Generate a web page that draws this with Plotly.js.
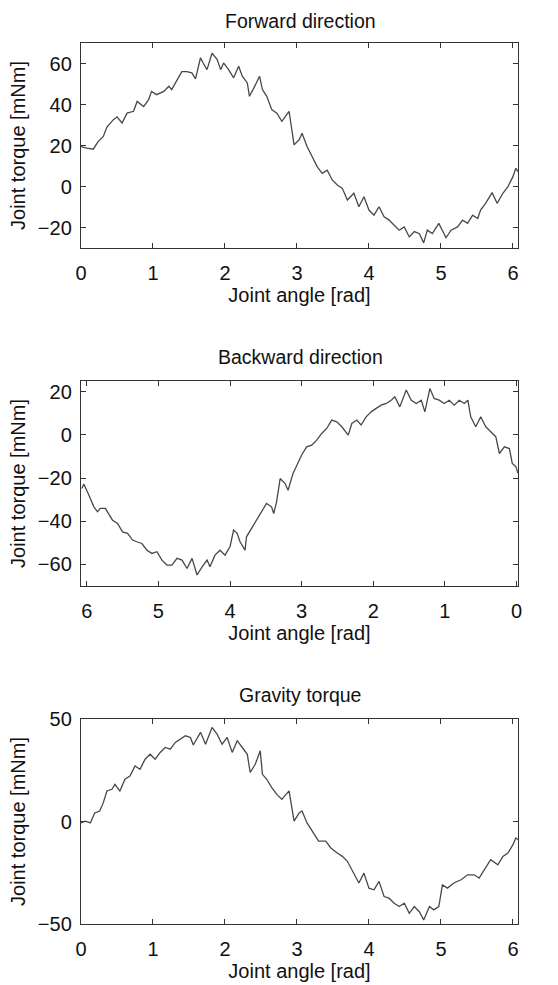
<!DOCTYPE html>
<html>
<head>
<meta charset="utf-8">
<script src="https://cdn.plot.ly/plotly-3.0.1.min.js"></script>
<style>html,body{margin:0;padding:0;background:#fff}#chart{width:558px;height:985px}</style>
</head>
<body>
<div id="chart"></div>
<script>
// Forward direction
const fwdAngle = [0,0.08,0.17,0.24,0.31,0.36,0.45,0.5,0.57,0.64,0.73,0.78,0.87,0.94,0.98,1.05,1.15,1.22,1.26,1.33,1.40,1.47,1.54,1.59,1.66,1.70,1.75,1.82,1.89,1.94,1.98,2.05,2.12,2.19,2.24,2.31,2.34,2.40,2.45,2.48,2.52,2.58,2.65,2.72,2.79,2.84,2.89,2.96,3.03,3.07,3.14,3.21,3.28,3.35,3.42,3.49,3.56,3.63,3.70,3.79,3.86,3.93,4.00,4.07,4.14,4.21,4.28,4.35,4.42,4.49,4.56,4.63,4.70,4.76,4.81,4.88,4.97,5.07,5.14,5.23,5.30,5.37,5.44,5.51,5.55,5.62,5.71,5.78,5.86,5.93,6.00,6.04,6.07];
const fwdTorque = [19.5,18.7,18.2,22,24.4,29,32.6,34,31,35.8,36.7,41.5,39,42.4,46.4,44.8,46.4,48.9,47.3,52,56,56,55.4,52.5,62.8,60,57,65,62,57,60.3,57,53,58.7,53.8,50.5,44,48,52,53.8,47.3,44,37.5,35.8,31.8,34,36.7,20.3,22.8,26,19.5,14.6,9.7,6.4,8,3.2,0.7,-0.9,-6.6,-3.3,-9.9,-5,-11.5,-14,-9.9,-14.8,-16.4,-18.9,-21.3,-19.7,-24.6,-22,-23,-27.5,-21.3,-23,-18,-25,-21.3,-19.7,-16.4,-18,-14,-15.6,-11.5,-8.2,-3,-8.2,-3.3,-0.1,4.8,8.9,7.3];

// Backward direction
const bwdAngle = [6.07,6.04,5.98,5.94,5.90,5.85,5.81,5.74,5.69,5.64,5.57,5.50,5.43,5.36,5.30,5.23,5.16,5.09,5.02,4.95,4.88,4.81,4.74,4.67,4.60,4.53,4.46,4.39,4.32,4.28,4.21,4.14,4.07,4.00,3.95,3.90,3.86,3.79,3.77,3.70,3.63,3.56,3.49,3.42,3.39,3.35,3.30,3.23,3.19,3.12,3.05,3.00,2.93,2.86,2.79,2.72,2.65,2.58,2.51,2.44,2.35,2.30,2.23,2.17,2.10,2.03,1.96,1.89,1.82,1.75,1.70,1.63,1.54,1.47,1.40,1.33,1.28,1.21,1.15,1.08,1.01,0.94,0.87,0.80,0.73,0.68,0.64,0.57,0.50,0.43,0.36,0.29,0.24,0.17,0.10,0.06,0.01,-0.02];
const bwdTorque = [-24.8,-22.8,-27.1,-30.2,-33.3,-35.6,-34,-34,-37.1,-39.5,-41,-44.9,-45.6,-48.7,-49.5,-50.3,-53.4,-54.9,-54.1,-58,-60.3,-60.3,-57.2,-58,-61.9,-57.2,-64.9,-61.1,-58,-61.1,-55.7,-53.4,-55.7,-51.8,-44.1,-45.6,-49.5,-53.4,-47.2,-43.3,-39.5,-35.6,-31.7,-33.3,-36.4,-31,-20.2,-22.5,-25.6,-17.8,-13.2,-9.3,-5.5,-4.7,-2.4,0.7,3,6.9,6.1,3.8,-0.1,5.3,6.9,4.6,8.4,10.7,12.3,13.8,14.6,16.1,17.7,13,20.8,16.1,14.6,16.1,10.7,21.5,16.9,16.1,14.6,16.1,13.8,16.1,14.6,16.1,8.4,3.8,8.4,3.8,1.5,-0.8,-8.6,-5.5,-6.3,-13.2,-14.7,-17.8];

// Gravity torque
const grvAngle = [0,0.06,0.13,0.19,0.26,0.31,0.36,0.43,0.47,0.54,0.61,0.68,0.75,0.82,0.89,0.96,1.03,1.10,1.17,1.24,1.31,1.38,1.45,1.52,1.56,1.66,1.73,1.82,1.89,1.96,2.03,2.10,2.17,2.24,2.31,2.35,2.42,2.49,2.52,2.58,2.65,2.72,2.79,2.89,2.96,3.03,3.07,3.14,3.21,3.30,3.40,3.47,3.56,3.63,3.70,3.79,3.86,3.93,4.00,4.07,4.14,4.21,4.28,4.35,4.42,4.49,4.56,4.63,4.70,4.76,4.84,4.90,4.97,5.02,5.09,5.18,5.28,5.37,5.46,5.53,5.60,5.69,5.79,5.86,5.93,6.00,6.04,6.07];
const grvTorque = [-0.7,0.2,-0.7,4.2,5.1,9.2,14.9,15.7,18.1,14.9,20.6,22.2,27.1,25.5,30.4,32.8,30.4,33.7,36.1,35.3,38.6,40.2,41.8,41,37.3,43.5,37.7,45.9,42.6,37.7,41,33.7,39.4,36.1,32.8,23.9,27.9,34.5,23,20.6,16.5,13.2,10.8,14.9,0.2,4.2,5.1,-0.7,-4.7,-9.6,-9.6,-12.9,-15.4,-17,-19.4,-25.2,-30,-25.2,-32.5,-33.3,-29.2,-36.6,-37.4,-39.9,-41.5,-39.9,-44.8,-41.5,-44,-48,-41.5,-43.1,-41.5,-30.9,-32.5,-30,-28.4,-26,-26,-27.6,-23.5,-18.6,-21.1,-17,-15.4,-11.3,-8,-8.8];

const subplotTitles = ['Forward direction', 'Backward direction', 'Gravity torque'];
const xTitle = 'Joint angle [rad]';
const yTitle = 'Joint torque [mNm]';

const FONT = 'Liberation Sans, Arial, Helvetica, sans-serif';
const TXT = '#111';
const lineStyle = {color: '#484848', width: 1.3};
const traces = [
  {x: fwdAngle, y: fwdTorque, xaxis: 'x', yaxis: 'y', type: 'scatter', mode: 'lines', line: lineStyle},
  {x: bwdAngle, y: bwdTorque, xaxis: 'x2', yaxis: 'y2', type: 'scatter', mode: 'lines', line: lineStyle},
  {x: grvAngle, y: grvTorque, xaxis: 'x3', yaxis: 'y3', type: 'scatter', mode: 'lines', line: lineStyle}
];

function xax(range, anchor) {
  return {
    domain: [81/558, 518/558], range: range, autorange: false, anchor: anchor,
    dtick: 1, tick0: 0, ticks: 'inside', ticklen: 5, tickcolor: '#333', tickwidth: 1,
    showline: true, linecolor: '#333', linewidth: 1.2, mirror: 'ticks',
    showgrid: false, zeroline: false,
    tickfont: {family: FONT, size: 20, color: TXT},
    ticklabelstandoff: 7,
    title: {text: xTitle, font: {family: FONT, size: 20, color: TXT}, standoff: 3}
  };
}
function yax(range, dtick, domain, anchor) {
  return {
    domain: domain, range: range, autorange: false, anchor: anchor,
    dtick: dtick, tick0: 0, ticks: 'inside', ticklen: 5, tickcolor: '#333', tickwidth: 1,
    showline: true, linecolor: '#333', linewidth: 1.2, mirror: 'ticks',
    showgrid: false, zeroline: false,
    tickfont: {family: FONT, size: 20, color: TXT},
    ticklabelstandoff: 4,
    title: {text: yTitle, font: {family: FONT, size: 20, color: TXT}, standoff: 6}
  };
}

const d1 = [1-248/985, 1-43/985], d2 = [1-586/985, 1-381/985], d3 = [1-924/985, 1-719/985];
const layout = {
  width: 558, height: 985,
  margin: {l: 0, r: 0, t: 0, b: 0},
  paper_bgcolor: '#fff', plot_bgcolor: '#fff',
  showlegend: false,
  font: {family: FONT, color: TXT},
  xaxis: xax([0, 6.07], 'y'),
  yaxis: yax([-30, 70], 20, d1, 'x'),
  xaxis2: xax([6.08, -0.02], 'y2'),
  yaxis2: yax([-70, 25], 20, d2, 'x2'),
  xaxis3: xax([0, 6.07], 'y3'),
  yaxis3: yax([-50, 50], 50, d3, 'x3'),
  annotations: [
    {text: subplotTitles[0], xref: 'paper', yref: 'paper', x: 300/558, y: 1-21/985, showarrow: false, font: {family: FONT, size: 19.5, color: TXT}, xanchor: 'center', yanchor: 'middle'},
    {text: subplotTitles[1], xref: 'paper', yref: 'paper', x: 300/558, y: 1-357/985, showarrow: false, font: {family: FONT, size: 19.5, color: TXT}, xanchor: 'center', yanchor: 'middle'},
    {text: subplotTitles[2], xref: 'paper', yref: 'paper', x: 300/558, y: 1-695/985, showarrow: false, font: {family: FONT, size: 19.5, color: TXT}, xanchor: 'center', yanchor: 'middle'}
  ]
};

Plotly.newPlot('chart', traces, layout, {displayModeBar: false, staticPlot: true});
</script>
</body>
</html>
